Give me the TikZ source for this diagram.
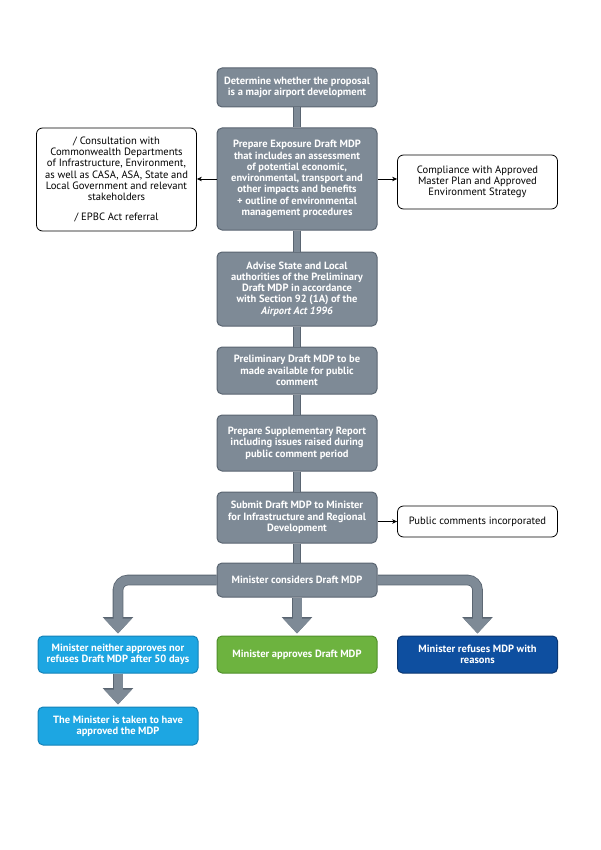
\documentclass[tikz,border=0pt]{standalone}
\usepackage{fontspec}
\setmainfont{PT Sans}
\usetikzlibrary{arrows.meta}

\definecolor{mdpgray}{HTML}{7E8A96}
\definecolor{mdpedge}{HTML}{5A6571}
\definecolor{mdpblue}{HTML}{1DA6E2}
\definecolor{mdpblueedge}{HTML}{1482B8}
\definecolor{mdpgreen}{HTML}{6DB33F}
\definecolor{mdpgreenedge}{HTML}{4F8F2A}
\definecolor{mdpnavy}{HTML}{0E4FA0}
\definecolor{mdpnavyedge}{HTML}{0A3670}

\tikzset{
	stage/.style={draw=mdpedge, fill=mdpgray, line width=1pt, rounded corners=5pt, text=white,
		font=\fontsize{10.5}{11.3}\selectfont\bfseries, align=center, minimum width=160pt, inner sep=2pt},
	note/.style={draw=black, fill=white, line width=0.8pt, rounded corners=6pt, text=black,
		font=\fontsize{10.6}{11.3}\selectfont, align=center, minimum width=160pt, inner sep=2pt},
	outcome/.style={stage, fill=#1, draw=#1edge},
	link/.style={draw=mdpedge, line width=0.8pt, double=mdpgray, double distance=6pt},
	note arrow/.style={draw=black, line width=0.6pt, -{Stealth[length=5pt,width=4.5pt]}},
	flow arrow/.style={mdpgray, line width=9pt, rounded corners=10pt, shorten >=2pt,
		-{Triangle[width=27pt,length=15pt]},
		preaction={draw=mdpedge, line width=10.6pt, -{Triangle[width=29.5pt,length=16.5pt]}}}
}

\begin{document}
\begin{tikzpicture}[x=1pt, y=-1pt]
	\useasboundingbox (0, 0) rectangle (601, 850);

	% main column
	\node[stage, minimum height=39pt] (determine) at (297, 87.5) {Determine whether the proposal\\is a major airport development};
	\node[stage, minimum height=102pt] (exposure) at (297, 179) {Prepare Exposure Draft MDP\\that includes an assessment\\of potential economic,\\environmental, transport and\\other impacts and benefits\\+ outline of environmental\\management procedures};
	\node[stage, minimum height=74pt] (advise) at (297, 289) {Advise State and Local\\authorities of the Preliminary\\Draft MDP in accordance\\with Section 92 (1A) of the\\\textit{Airport Act 1996}};
	\node[stage, minimum height=47pt] (preliminary) at (297, 370.5) {Preliminary Draft MDP to be\\made available for public\\comment};
	\node[stage, minimum height=56pt] (supplementary) at (297, 443) {Prepare Supplementary Report\\including issues raised during\\public comment period};
	\node[stage, minimum height=51pt] (submit) at (297, 517.5) {Submit Draft MDP to Minister\\for Infrastructure and Regional\\Development};
	\node[stage, minimum height=34pt] (considers) at (297, 580) {Minister considers Draft MDP};

	% side notes
	\node[note, minimum height=103pt] (consult) at (116.5, 179.5) {/ Consultation with\\Commonwealth Departments\\of Infrastructure, Environment,\\as well as CASA, ASA, State and\\Local Government and relevant\\stakeholders\\[8.5pt]/ EPBC Act referral};
	\node[note, minimum height=54pt] (compliance) at (477.5, 182) {Compliance with Approved\\Master Plan and Approved\\Environment Strategy};
	\node[note, minimum height=31pt] (comments) at (477.5, 521.5) {Public comments incorporated};

	% outcomes
	\node[outcome=mdpblue, minimum height=37pt] (neither) at (118, 654.5) {Minister neither approves nor\\refuses Draft MDP after 50 days};
	\node[outcome=mdpgreen, minimum height=37pt] (approves) at (297, 654.5) {Minister approves Draft MDP};
	\node[outcome=mdpnavy, minimum height=37pt] (refuses) at (477.5, 654.5) {Minister refuses MDP with\\reasons};
	\node[outcome=mdpblue, minimum height=38pt] (deemed) at (118, 726) {The Minister is taken to have\\approved the MDP};

	% connectors
	\draw[link] (determine.south) -- (exposure.north);
	\draw[link] (exposure.south) -- (advise.north);
	\draw[link] (advise.south) -- (preliminary.north);
	\draw[link] (preliminary.south) -- (supplementary.north);
	\draw[link] (supplementary.south) -- (submit.north);
	\draw[link] (submit.south) -- (considers.north);

	\draw[note arrow] (exposure.west) -- (exposure.west -| consult.east);
	\draw[note arrow] (exposure.east) -- (exposure.east -| compliance.west);
	\draw[note arrow] (submit.east |- comments.west) -- (comments.west);

	\draw[flow arrow] (considers.west) -| (neither.north);
	\draw[flow arrow] (considers.south) -- (approves.north);
	\draw[flow arrow] (considers.east) -| (refuses.north);
	\draw[flow arrow] (neither.south) -- (deemed.north);
\end{tikzpicture}
\end{document}
